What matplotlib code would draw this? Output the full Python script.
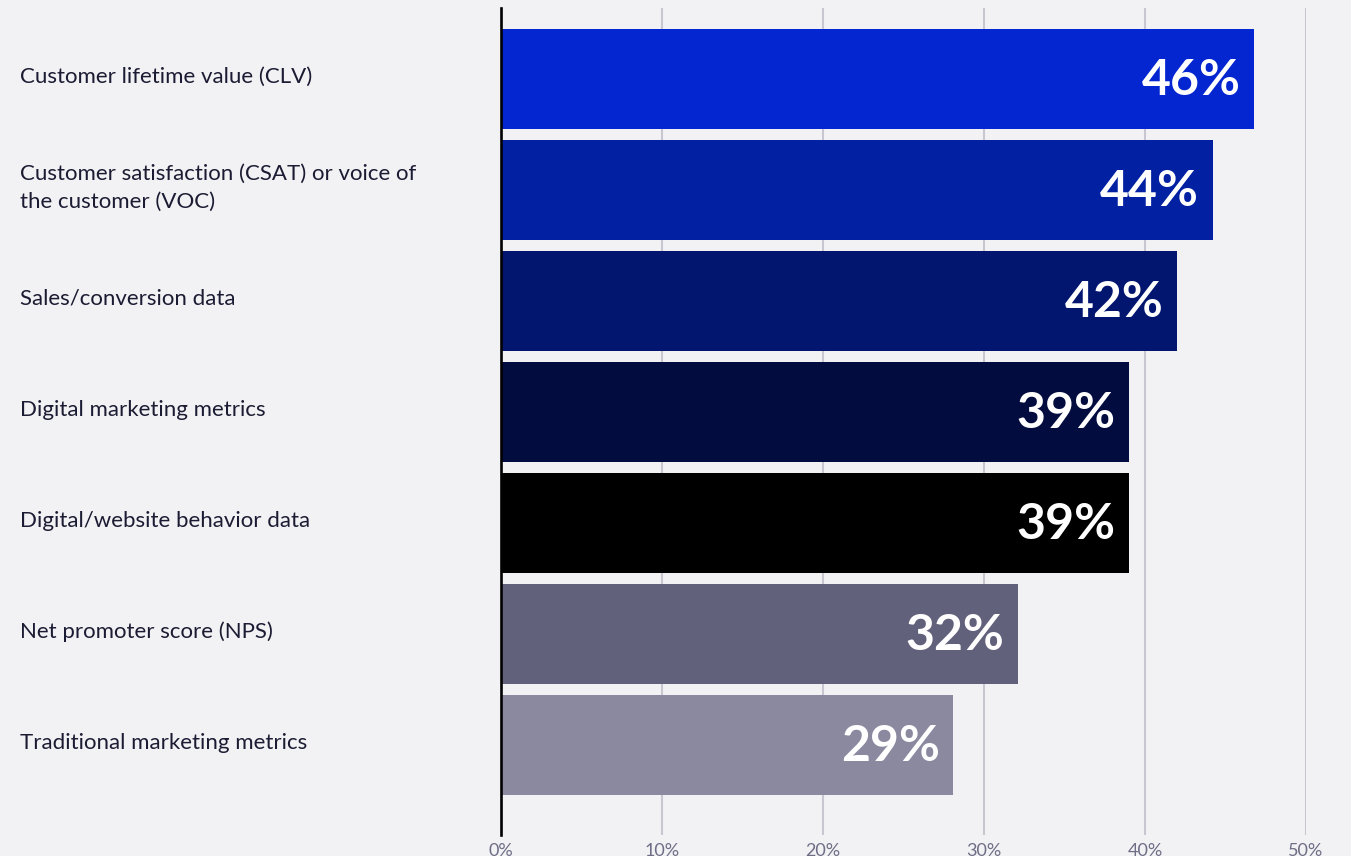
import matplotlib
matplotlib.use("Agg")
import matplotlib.pyplot as plt
from matplotlib.transforms import blended_transform_factory

# data
categories = [
    "Customer lifetime value (CLV)",
    "Customer satisfaction (CSAT) or voice of\nthe customer (VOC)",
    "Sales/conversion data",
    "Digital marketing metrics",
    "Digital/website behavior data",
    "Net promoter score (NPS)",
    "Traditional marketing metrics",
]
values = [46.8, 44.2, 42.0, 39.0, 39.0, 32.1, 28.1]
value_labels = ["46%", "44%", "42%", "39%", "39%", "32%", "29%"]
x_ticks = [0, 10, 20, 30, 40, 50]
x_tick_labels = ["0%", "10%", "20%", "30%", "40%", "50%"]

BAR_COLORS = ["#0426D0", "#0220A2", "#03166F", "#020C3F", "#000000",
              "#62617C", "#8A89A0"]
BG = "#F2F2F4"
TEXT = "#1B1B33"
TICK = "#6E6D86"
GRID = "#C8C7D1"

fig = plt.figure(figsize=(13.51, 8.56), dpi=100, facecolor=BG)
ax = fig.add_axes([501 / 1351, 1 - 835 / 856, 805 / 1351, 827 / 856])
ax.set_facecolor(BG)

y = list(range(len(categories)))
bars = ax.barh(y, values, height=0.9, color=BAR_COLORS, zorder=3)

# value labels inside the bar ends
for b, lab in zip(bars, value_labels):
    ax.annotate(lab, (b.get_width(), b.get_y() + b.get_height() / 2),
                xytext=(-10, -1), textcoords="offset points",
                ha="right", va="center", color="white",
                fontsize=36, fontweight="bold", family="Lato", zorder=4)

# category labels, left-aligned near the figure edge
trans = blended_transform_factory(fig.transFigure, ax.transData)
for i, cat in enumerate(categories):
    ax.text(20 / 1351, i - 0.02, cat, transform=trans,
            ha="left", va="center", fontsize=16, color=TEXT, family="Lato",
            linespacing=1.5)

ax.set_xlim(0, 50)
ax.set_ylim(6.81, -0.64)
ax.set_yticks([])
ax.set_xticks(x_ticks)
ax.set_xticklabels(x_tick_labels, fontsize=13, color=TICK, family="Lato")
ax.tick_params(axis="x", length=0, pad=6)
ax.grid(axis="x", color=GRID, linewidth=1.5, zorder=0)

for s in ["top", "right", "bottom"]:
    ax.spines[s].set_visible(False)
ax.spines["left"].set_color("black")
ax.spines["left"].set_linewidth(1.9)
ax.spines["left"].set_zorder(5)

fig.savefig("out.png", dpi=100, facecolor=BG)
